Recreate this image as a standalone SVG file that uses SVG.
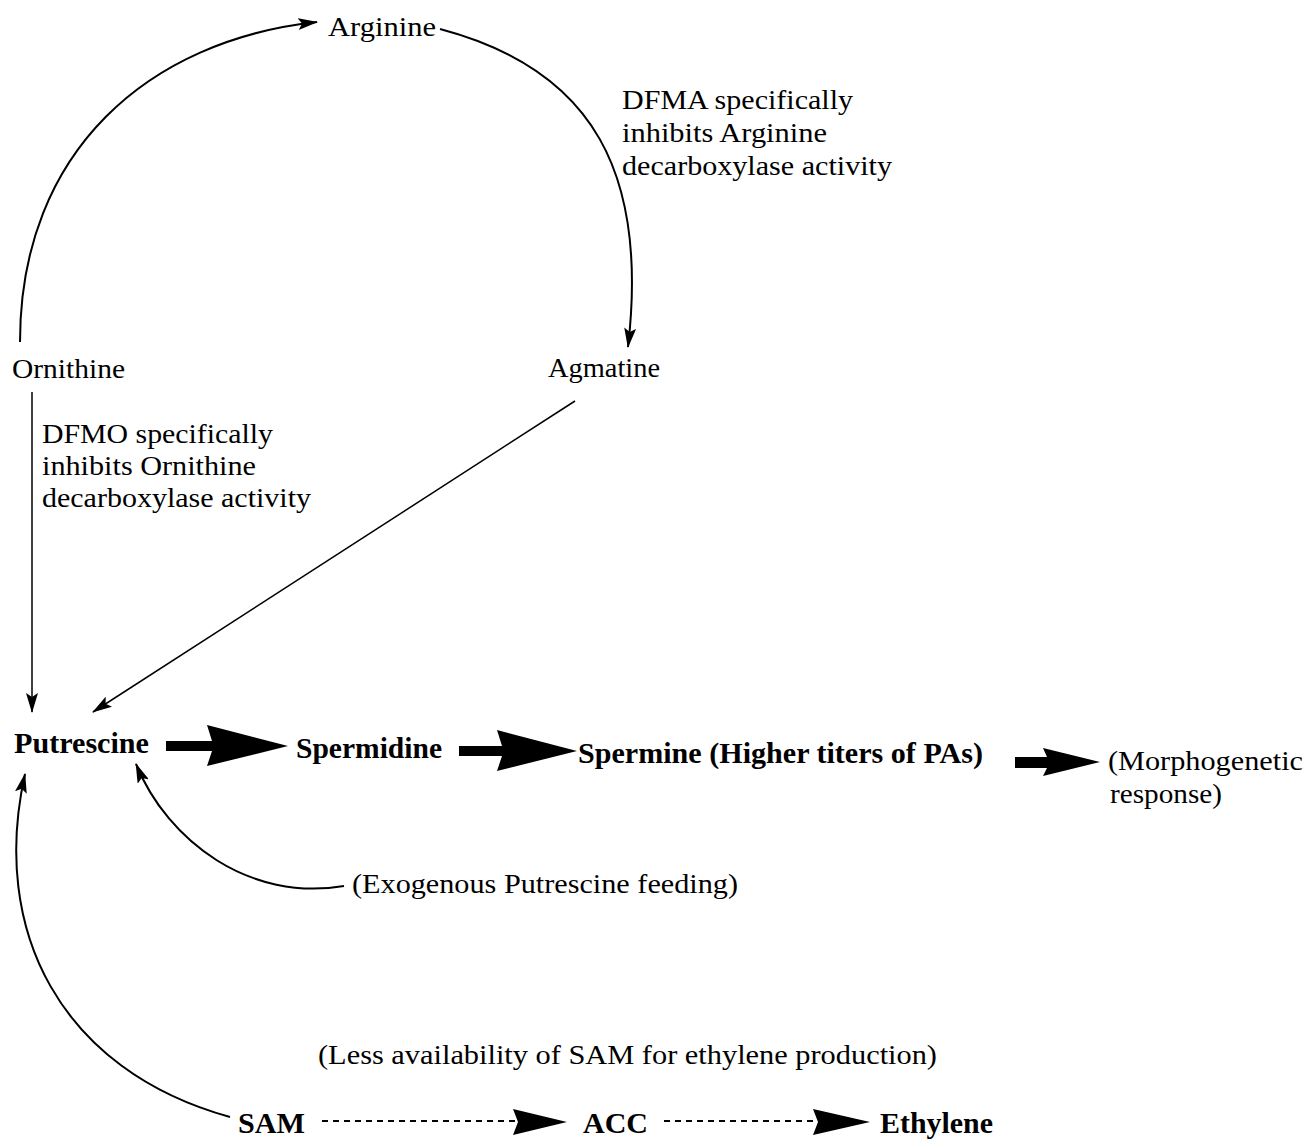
<svg xmlns="http://www.w3.org/2000/svg" width="1307" height="1139" viewBox="0 0 1307 1139">
<style>
text{font-family:"Liberation Serif","Times New Roman",serif;fill:#000}
.r{font-size:27px}
.b{font-size:29px;font-weight:bold}
.ln{fill:none;stroke:#000;stroke-width:2}
.thin{fill:none;stroke:#000;stroke-width:1.5}
.dash{fill:none;stroke:#000;stroke-width:2;stroke-dasharray:6,5}
.fat{fill:#000;stroke:none}
</style>
<defs>
<marker id="ah" markerUnits="userSpaceOnUse" markerWidth="20" markerHeight="12" viewBox="0 0 20 12" refX="19" refY="6" orient="auto">
<path d="M0,0 L20,6 L0,12 L4,6 Z" fill="#000"/>
</marker>
</defs>
<rect width="1307" height="1139" fill="#fff"/>
<g id="connectors">
<path class="ln" d="M20,342 C20,150 150,40 317,22" marker-end="url(#ah)"/>
<path class="ln" d="M440,29 C595,70 648,175 628,347" marker-end="url(#ah)"/>
<path class="thin" d="M32,392 L32,712" marker-end="url(#ah)"/>
<path class="thin" d="M575,401 L93,712" marker-end="url(#ah)"/>
<path class="ln" d="M344,886 C250,902 168,842 136,764" marker-end="url(#ah)"/>
<path class="ln" d="M230,1117 C60,1070 -10,930 25,774" marker-end="url(#ah)"/>
<path class="fat" d="M166,741 L212,741 L207,725 L288,746 L207,766 L212,751 L166,751 Z"/>
<path class="fat" d="M459,746 L502,746 L497,730 L577,751 L497,771 L502,756 L459,756 Z"/>
<path class="fat" d="M1015,757 L1047,757 L1043,748 L1100,762 L1043,776 L1047,768 L1015,768 Z"/>
<path class="dash" d="M322,1121 L515,1121"/>
<path class="fat" d="M513,1109 L567,1122 L513,1135 L518,1122 Z"/>
<path class="dash" d="M664,1121 L815,1121"/>
<path class="fat" d="M813,1109 L870,1122 L813,1135 L818,1122 Z"/>
</g>
<g id="arginine"><text class="r" x="328" y="36" textLength="108" lengthAdjust="spacingAndGlyphs">Arginine</text></g>
<g id="dfma-note">
<text class="r" x="622" y="109" textLength="231" lengthAdjust="spacingAndGlyphs">DFMA specifically</text>
<text class="r" x="622" y="142" textLength="205" lengthAdjust="spacingAndGlyphs">inhibits Arginine</text>
<text class="r" x="622" y="175" textLength="270" lengthAdjust="spacingAndGlyphs">decarboxylase activity</text>
</g>
<g id="ornithine"><text class="r" x="12" y="378" textLength="113" lengthAdjust="spacingAndGlyphs">Ornithine</text></g>
<g id="agmatine"><text class="r" x="548" y="377" textLength="112" lengthAdjust="spacingAndGlyphs">Agmatine</text></g>
<g id="dfmo-note">
<text class="r" x="42" y="443" textLength="231" lengthAdjust="spacingAndGlyphs">DFMO specifically</text>
<text class="r" x="42" y="475" textLength="214" lengthAdjust="spacingAndGlyphs">inhibits Ornithine</text>
<text class="r" x="42" y="507" textLength="269" lengthAdjust="spacingAndGlyphs">decarboxylase activity</text>
</g>
<g id="putrescine"><text class="b" x="14" y="753" textLength="135" lengthAdjust="spacingAndGlyphs">Putrescine</text></g>
<g id="spermidine"><text class="b" x="296" y="758" textLength="146" lengthAdjust="spacingAndGlyphs">Spermidine</text></g>
<g id="spermine"><text class="b" x="578" y="763" textLength="405" lengthAdjust="spacingAndGlyphs">Spermine (Higher titers of PAs)</text></g>
<g id="morphogenetic">
<text class="r" x="1108" y="770" textLength="195" lengthAdjust="spacingAndGlyphs">(Morphogenetic</text>
<text class="r" x="1110" y="803" textLength="112" lengthAdjust="spacingAndGlyphs">response)</text>
</g>
<g id="exogenous"><text class="r" x="352" y="893" textLength="386" lengthAdjust="spacingAndGlyphs">(Exogenous Putrescine feeding)</text></g>
<g id="less-sam"><text class="r" x="318" y="1064" textLength="619" lengthAdjust="spacingAndGlyphs">(Less availability of SAM for ethylene production)</text></g>
<g id="sam"><text class="b" x="238" y="1133" textLength="67" lengthAdjust="spacingAndGlyphs">SAM</text></g>
<g id="acc"><text class="b" x="583" y="1133" textLength="65" lengthAdjust="spacingAndGlyphs">ACC</text></g>
<g id="ethylene"><text class="b" x="880" y="1133" textLength="113" lengthAdjust="spacingAndGlyphs">Ethylene</text></g>
</svg>
